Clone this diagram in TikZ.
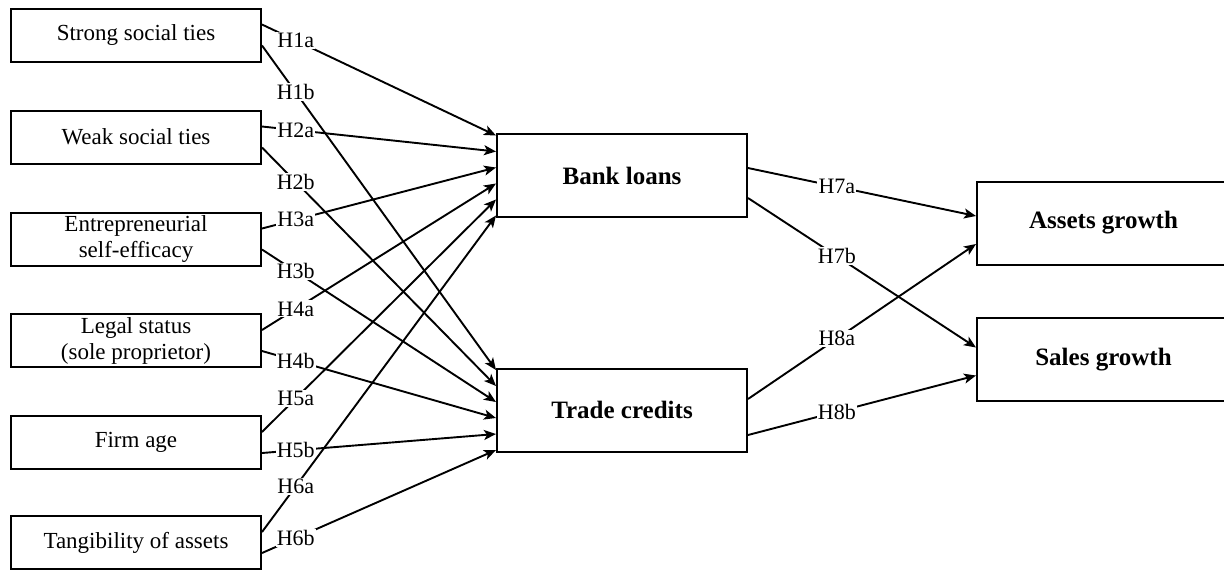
\documentclass[tikz,border=0pt]{standalone}
\usepackage{fontspec}
\setmainfont{Liberation Serif}
\usetikzlibrary{arrows.meta}

\begin{document}
\begin{tikzpicture}[x=0.5pt, y=-0.5pt,
  var/.style={draw, line width=1pt, align=center, minimum width=125pt, minimum height=26.5pt, inner sep=1pt, font=\fontsize{11.5}{13}\selectfont},
  med/.style={var, minimum height=41.5pt, font=\fontsize{12.5}{14}\selectfont\bfseries},
  dep/.style={med, minimum width=126.5pt},
  arr/.style={-{Stealth[length=6pt, width=5pt, inset=1.5pt]}, line width=0.95pt},
  hyp/.style={fill=white, inner sep=0.6pt, pos=0.144, font=\fontsize{11}{12}\selectfont}]
\useasboundingbox (0,0) rectangle (1224,569);
% predictors
\node[var] (sst) at (136,35) {Strong social ties};
\node[var] (wst) at (136,137) {Weak social ties};
\node[var] (ese) at (136,239) {Entrepreneurial\\self-efficacy};
\node[var] (leg) at (136,340.5) {Legal status\\(sole proprietor)};
\node[var] (age) at (136,442.5) {Firm age};
\node[var] (tan) at (136,542.5) {Tangibility of assets};
% financing
\node[med] (bank) at (622,175.5) {Bank loans};
\node[med] (trade) at (622,410) {Trade credits};
% growth
\node[dep] (assets) at (1103.5,223) {Assets growth};
\node[dep] (sales) at (1103.5,359.5) {Sales growth};
% H1--H6
\foreach \src/\n/\sh in {sst/1/20, wst/2/12, ese/3/4, leg/4/-4, age/5/-12, tan/6/-20} {
  \draw[arr] ([yshift=5.25pt]\src.east) -- node[hyp] {H\n a} ([yshift=\sh pt]bank.west);
  \draw[arr] ([yshift=-5.25pt]\src.east) -- node[hyp] {H\n b} ([yshift=\sh pt]trade.west);
}
% H7, H8
\draw[arr] ([yshift=3.75pt]bank.east) -- node[hyp, pos=0.39] {H7a} ([yshift=3.5pt]assets.west);
\draw[arr] ([yshift=-11.25pt]bank.east) -- node[hyp, pos=0.39] {H7b} ([yshift=6pt]sales.west);
\draw[arr] ([yshift=5.5pt]trade.east) -- node[hyp, pos=0.39] {H8a} ([yshift=-10.5pt]assets.west);
\draw[arr] ([yshift=-12.5pt]trade.east) -- node[hyp, pos=0.39] {H8b} ([yshift=-8pt]sales.west);
\end{tikzpicture}
\end{document}
